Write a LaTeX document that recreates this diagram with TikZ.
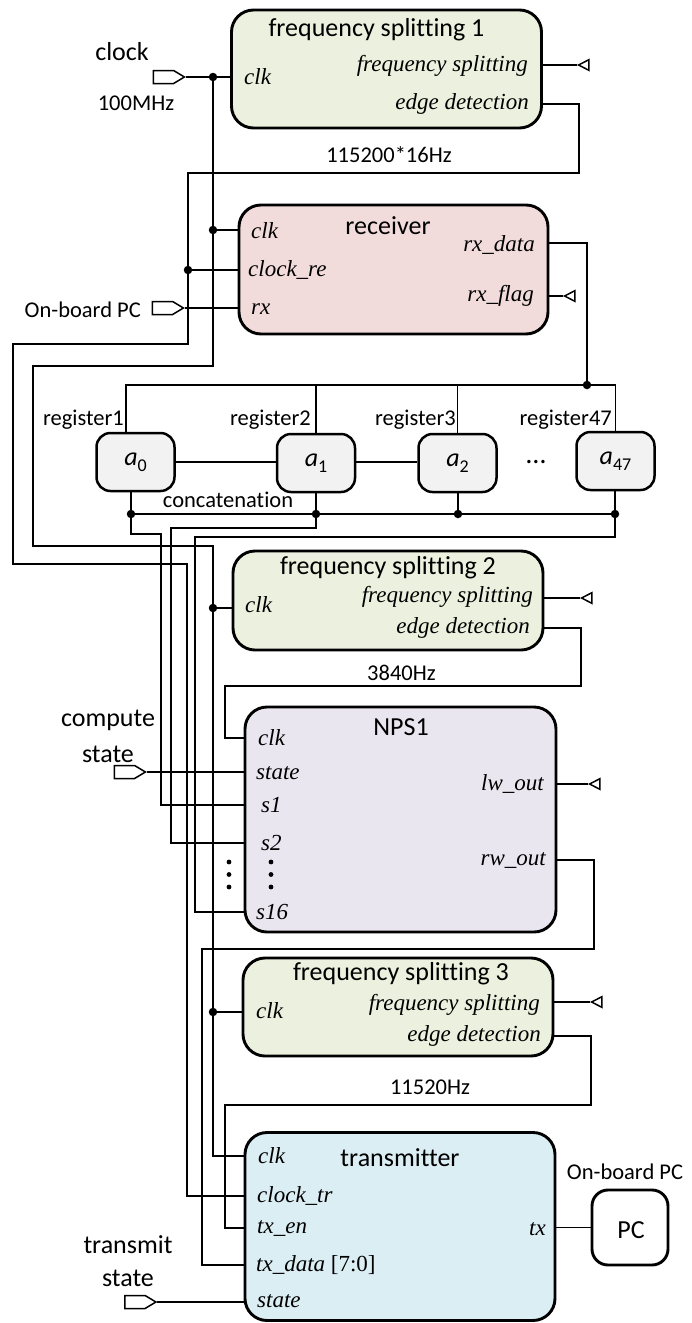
\documentclass[tikz,border=0pt]{standalone}
\usepackage{fontspec}
\setmainfont{Carlito}[Ligatures={NoCommon}]
\newfontfamily\tms{Liberation Serif}[Ligatures={NoCommon}]
\usetikzlibrary{shapes.symbols,shapes.geometric}
\definecolor{fsg}{HTML}{EBF1DE}
\definecolor{rcv}{HTML}{F2DCDB}
\definecolor{rgg}{HTML}{F2F2F2}
\definecolor{npsc}{HTML}{EAE6EF}
\definecolor{trb}{HTML}{DBEEF4}
\newcommand\ait[1]{{\itshape a}\raisebox{-0.22em}{\fontsize{18}{18}\selectfont #1}}
\begin{document}
\begin{tikzpicture}[x=1pt,y=-1pt,
  wire/.style={line width=1.5pt},
  blk/.style={draw, line width=2.9pt, rounded corners=22pt, inner sep=0pt},
  reg/.style={draw, line width=2.5pt, rounded corners=14pt, fill=rgg, minimum width=78pt, minimum height=58pt, inner sep=0pt, font=\fontsize{26}{28}\selectfont},
  port/.style={font=\tms\itshape\fontsize{23}{24}\selectfont, inner sep=0pt},
  lbl/.style={font=\fontsize{22.5}{24}\selectfont, inner sep=0pt},
  big/.style={font=\fontsize{26}{28}\selectfont, inner sep=0pt},
  dot/.style={circle, fill, inner sep=0pt, minimum size=8.5pt},
  inport/.style={draw, signal, signal to=east, signal pointer angle=62, line width=1.5pt, minimum width=31pt, minimum height=13pt, inner sep=0pt},
  otri/.style={draw, isosceles triangle, isosceles triangle apex angle=55, shape border rotate=180, line width=1.5pt, inner sep=2.6pt, anchor=apex}
]
\useasboundingbox (0,0) rectangle (691,1323);

% ---------- frequency splitting 1 ----------
\node[blk, fill=fsg, minimum width=310pt, minimum height=118pt] (fs1) at (386.5,69) {};
\node[big] (fs1t) at (376.5,30) {frequency splitting 1};
\node[port, anchor=west] (f1clk) at (244,77) {clk};
\node[port, anchor=east] (f1fs) at (528,66) {frequency splitting};
\node[port, anchor=east] (f1ed) at (529,104) {edge detection};
\node[otri] (f1tri) at (577,65) {};
\draw[wire] (fs1.east |- f1tri.apex) -- (f1tri.apex);

\node[inport] (clkin) at (163.5,77) {};
\node[big] (clkl) at (122,52) {clock};
\node[lbl] (mhz) at (136,103.5) {100MHz};
\node[dot] (j1) at (213,77) {};
\draw[wire] (clkin.east) -- (j1) -- (fs1.west |- j1);

% ---------- receiver ----------
\node[blk, fill=rcv, minimum width=309pt, minimum height=129pt] (rcv) at (393.5,269.5) {};
\node[big] (rcvt) at (388,226) {receiver};
\node[port, anchor=west] (rclk) at (251,231) {clk};
\node[port, anchor=west] (rcre) at (248,270) {clock\_re};
\node[port, anchor=west] (rrx) at (251,309) {rx};
\node[port, anchor=east] (rxd) at (535,245) {rx\_data};
\node[port, anchor=east] (rxf) at (534,296) {rx\_flag};
\node[otri] (rtri) at (563,296) {};
\draw[wire] (rcv.east |- rtri.apex) -- (rtri.apex);

\node[inport] (pcin) at (162.5,308) {};
\node[lbl, anchor=east] (pcinl) at (141,310) {On-board PC};
\draw[wire] (pcin.east) -- (rcv.west |- pcin);

% clock bus
\node[dot] (j2) at (213,230) {};
\draw[wire] (j1) -- (j2) -- (rcv.west |- j2);
\coordinate (c1) at (213,366);
\coordinate (c2) at (33,366);
\coordinate (c3) at (33,546);
\coordinate (c4) at (213,546);
\node[dot] (j3) at (213,608) {};
\node[dot] (j4) at (213,1012) {};

% edge detection 1 line
\coordinate (e1b) at (579,173);
\coordinate (e1c) at (188,173);
\node[dot] (j5) at (188,270) {};
\coordinate (e1d) at (188,344);
\coordinate (e1e) at (13,344);
\coordinate (e1f) at (13,564);
\coordinate (e1g) at (187,564);
\draw[wire] (fs1.east |- f1ed) -| (e1b) -- (e1c) -- (j5) -- (rcv.west |- j5);
\node[lbl] (hz1) at (389,155) {115200*16Hz};

% ---------- registers ----------
\node[reg] (a0) at (135.5,462) {\ait{0}};
\node[reg] (a1) at (316,463) {\ait{1}};
\node[reg] (a2) at (457.5,463) {\ait{2}};
\node[reg] (a47) at (615.5,461) {\ait{47}};
\draw[wire] (a0.east |- 0,462) -- (a1.west |- 0,462);
\draw[wire] (a1.east |- 0,462) -- (a2.west |- 0,462);
\node[font=\fontsize{28}{30}\selectfont, inner sep=0pt, anchor=base] (dts) at (536,463) {\ldots};
\node[lbl, anchor=east] (r1l) at (124,420) {register1};
\node[lbl, anchor=east] (r2l) at (311,420) {register2};
\node[lbl, anchor=east] (r3l) at (456,420) {register3};
\node[lbl, anchor=east] (r47l) at (612,420) {register47};

\node[dot] (j6) at (587,385) {};
\coordinate (b0) at (126,385);
\draw[wire] (rcv.east |- 0,243) -| (j6);
\draw[wire] (b0 |- a0.north) -- (b0) -- (j6) -| (a47.north);
\draw[wire] (a1.north |- b0) -- (a1.north);
\draw[wire] (a2.north |- b0) -- (a2.north);

\node[dot] (d0) at (131,514) {};
\node[dot] (d1) at (316,514) {};
\node[dot] (d2) at (458,514) {};
\node[dot] (d3) at (615,514) {};
\draw[wire] (d0 |- a0.south) -- (d0);
\draw[wire] (d1 |- a1.south) -- (d1);
\draw[wire] (d2 |- a2.south) -- (d2);
\draw[wire] (d3 |- a47.south) -- (d3);
\draw[wire] (d0) -- (d3);
\node[lbl] (cat) at (228,500) {concatenation};

% ---------- frequency splitting 2 ----------
\node[blk, fill=fsg, minimum width=310pt, minimum height=99pt] (fs2) at (388,600.5) {};
\node[big] (fs2t) at (388,568) {frequency splitting 2};
\node[port, anchor=west] (f2clk) at (245,605) {clk};
\node[port, anchor=east] (f2fs) at (533,597) {frequency splitting};
\node[port, anchor=east] (f2ed) at (530,628) {edge detection};
\node[otri] (f2tri) at (580,598) {};
\draw[wire] (fs2.east |- f2tri.apex) -- (f2tri.apex);

% ---------- NPS1 ----------
\node[blk, fill=npsc, minimum width=311pt, minimum height=225pt] (nps) at (400.5,819.5) {};
\node[big] (npst) at (401,727) {NPS1};
\node[port, anchor=west] (nclk) at (258,738) {clk};
\node[port, anchor=west] (nst) at (256,773) {state};
\node[port, anchor=west] (ns1) at (261,805) {s1};
\node[port, anchor=west] (ns2) at (261,843) {s2};
\node[port, anchor=west] (ns16) at (256,912) {s16};
\node[port, anchor=east] (nlw) at (544,784) {lw\_out};
\node[port, anchor=east] (nrw) at (546,860) {rw\_out};
\node[otri] (ntri) at (588,784) {};
\draw[wire] (nps.east |- ntri.apex) -- (ntri.apex);
\foreach \yy in {862,874.5,887} { \fill (229,\yy) circle (2.4); \fill (271,\yy) circle (2.4); }

\coordinate (e2b) at (581,686);
\coordinate (e2c) at (225,686);
\draw[wire] (fs2.east |- f2ed) -| (e2b) -- (e2c) |- (nps.west |- nclk);
\node[lbl] (hz2) at (401.5,673) {3840Hz};

\node[big] (cmp1) at (108,720) {compute};
\node[big] (cmp2) at (108,754) {state};
\node[inport] (csin) at (124.5,772) {};
\draw[wire] (csin.east) -- (nps.west |- csin);

\coordinate (s1a) at (161,534);
\coordinate (s2a) at (171,528);
\coordinate (s16a) at (195,537);
\draw[wire] (d0) |- (s1a) |- (nps.west |- ns1);
\draw[wire] (d1) |- (s2a) |- (nps.west |- ns2);
\draw[wire] (d3) |- (s16a) |- (nps.west |- ns16);

% ---------- frequency splitting 3 ----------
\node[blk, fill=fsg, minimum width=310pt, minimum height=98pt] (fs3) at (398,1007) {};
\node[big] (fs3t) at (401,974) {frequency splitting 3};
\node[port, anchor=west] (f3clk) at (256,1011) {clk};
\node[port, anchor=east] (f3fs) at (540,1005) {frequency splitting};
\node[port, anchor=east] (f3ed) at (541,1036) {edge detection};
\node[otri] (f3tri) at (590,1002) {};
\draw[wire] (fs3.east |- f3tri.apex) -- (f3tri.apex);

% ---------- transmitter ----------
\node[blk, fill=trb, minimum width=310pt, minimum height=188pt] (tr) at (400,1226.5) {};
\node[big] (trt) at (400,1158) {transmitter};
\node[port, anchor=west] (tclk) at (258,1156) {clk};
\node[port, anchor=west] (tctr) at (257,1196) {clock\_tr};
\node[port, anchor=west] (ten) at (257,1228) {tx\_en};
\node[port, anchor=west] (tdat) at (256,1265) {tx\_data {\upshape [7:0]}};
\node[port, anchor=west] (tst) at (257,1301) {state};
\node[port, anchor=east] (ttx) at (546,1229) {tx};

\node[blk, fill=white, rounded corners=16pt, minimum width=76pt, minimum height=75pt] (pc) at (630,1227.5) {};
\node[big] (pct) at (631,1230) {PC};
\node[lbl] (pcl) at (625,1172) {On-board PC};
\draw[wire] (tr.east |- pc) -- (pc);

\node[big] (ts1) at (128,1245) {transmit};
\node[big] (ts2) at (128,1278) {state};
\node[inport] (tsin) at (135,1302) {};
\draw[wire] (tsin.east) -- (tr.west |- tsin);

% clock bus continued
\draw[wire] (j2) -- (c1) -- (c2) -- (c3) -- (c4) -- (j3) -- (fs2.west |- j3);
\draw[wire] (j3) -- (j4) -- (fs3.west |- j4);
\draw[wire] (j4) |- (tr.west |- tclk);

% edge detection 1 continued to transmitter
\draw[wire] (j5) -- (e1d) -- (e1e) -- (e1f) -- (e1g) |- (tr.west |- tctr);

% rw_out -> tx_data
\coordinate (r1) at (594,949);
\coordinate (r2) at (202,949);
\draw[wire] (nps.east |- nrw) -| (r1) -- (r2) |- (tr.west |- tdat);

% edge detection 3 -> tx_en
\coordinate (e3b) at (591,1105);
\coordinate (e3c) at (225,1105);
\draw[wire] (fs3.east |- f3ed) -| (e3b) -- (e3c) |- (tr.west |- ten);
\node[lbl] (hz3) at (430,1087) {11520Hz};
\end{tikzpicture}
\end{document}
